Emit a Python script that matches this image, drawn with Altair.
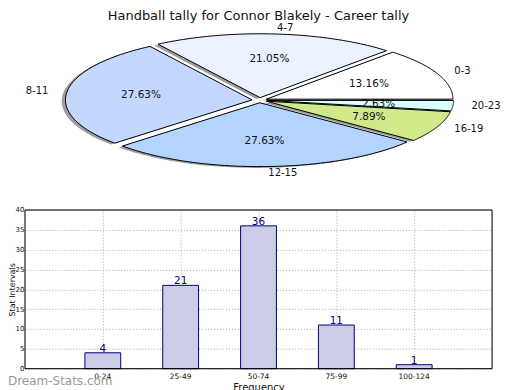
import altair as alt
import pandas as pd

# ---- data ----
pie_labels = ["0-3", "4-7", "8-11", "12-15", "16-19", "20-23"]
pie_counts = [10, 16, 21, 21, 6, 2]
pie_colors = ["#FFFFFF", "#EAF1FF", "#C4D8FF", "#B3D4FF", "#D0EA8A", "#D8FFFF"]

bar_cats = ["0-24", "25-49", "50-74", "75-99", "100-124"]
bar_vals = [4, 21, 36, 11, 1]

title_text = "Handball tally for Connor Blakely - Career tally"
FONT = "DejaVu Sans"

pie_df = pd.DataFrame({"label": pie_labels, "count": pie_counts, "order": list(range(len(pie_labels)))})
bar_df = pd.DataFrame({"cat": bar_cats, "val": bar_vals})

EXPLODE = 0.04
NSEG = 60

# pie scales (unit circle, squashed into an ellipse by the scales)
xs = alt.Scale(domain=[-1.2567, 1.2460], nice=False, zero=False)
ys = alt.Scale(domain=[-4.2031, -1.71875], nice=False, zero=False)

pie_base = (
    alt.Chart(pie_df)
    .transform_window(cum="sum(count)", sort=[alt.SortField("order")], frame=[None, 0])
    .transform_joinaggregate(total="sum(count)")
    .transform_calculate(
        a0="2*PI*(datum.cum-datum.count)/datum.total",
        a1="2*PI*datum.cum/datum.total",
    )
    .transform_calculate(mid="(datum.a0+datum.a1)/2")
    .transform_calculate(ex=f"{EXPLODE}*cos(datum.mid)", ey=f"{EXPLODE}*sin(datum.mid)")
)

poly = (
    pie_base.transform_calculate(k=f"sequence(0, {NSEG + 3})")
    .transform_flatten(["k"])
    .transform_calculate(
        t=f"clamp((datum.k-1)/{NSEG}, 0, 1)",
        isc=f"datum.k==0 || datum.k=={NSEG + 2}",
    )
    .transform_calculate(ang="datum.a0 + (datum.a1-datum.a0)*datum.t")
    .transform_calculate(
        px="datum.ex + (datum.isc ? 0 : cos(datum.ang))",
        py="datum.ey + (datum.isc ? 0 : sin(datum.ang))",
    )
)

shadow = poly.transform_calculate(sx="datum.px-0.02", sy="datum.py-0.02").mark_line(
    fill="#4d4d4d", fillOpacity=0.55, strokeWidth=0
).encode(
    x=alt.X("sx:Q", scale=xs, axis=None),
    y=alt.Y("sy:Q", scale=ys, axis=None),
    order="k:Q",
    detail="label:N",
)

wedges = poly.mark_line(stroke="black", strokeWidth=1, strokeJoin="miter").encode(
    x=alt.X("px:Q", scale=xs, axis=None),
    y=alt.Y("py:Q", scale=ys, axis=None),
    order="k:Q",
    fill=alt.Fill("label:N", scale=alt.Scale(domain=pie_labels, range=pie_colors), legend=None),
    detail="label:N",
)

pct = (
    pie_base.transform_calculate(
        tx="datum.ex + 0.6*cos(datum.mid)",
        ty="datum.ey + 0.6*sin(datum.mid)",
        txt="format(100*datum.count/datum.total, '.2f') + '%'",
    )
    .mark_text(font=FONT, fontSize=10.5, color="#111111", baseline="middle", align="center")
    .encode(x=alt.X("tx:Q", scale=xs, axis=None), y=alt.Y("ty:Q", scale=ys, axis=None), text="txt:N")
)

lab_base = pie_base.transform_calculate(
    tx="datum.ex + 1.1*cos(datum.mid)",
    ty="datum.ey + 1.1*sin(datum.mid)",
)
lab_right = (
    lab_base.transform_filter("datum.tx > 0")
    .mark_text(font=FONT, fontSize=10, color="#111111", baseline="middle", align="left")
    .encode(x=alt.X("tx:Q", scale=xs, axis=None), y=alt.Y("ty:Q", scale=ys, axis=None), text="label:N")
)
lab_left = (
    lab_base.transform_filter("datum.tx <= 0")
    .mark_text(font=FONT, fontSize=10, color="#111111", baseline="middle", align="right")
    .encode(x=alt.X("tx:Q", scale=xs, axis=None), y=alt.Y("ty:Q", scale=ys, axis=None), text="label:N")
)

pie = alt.layer(shadow, wedges, pct, lab_right, lab_left)

# ---- bar chart ----
GRID = "#a8a8a8"
xb = alt.X(
    "cat:N",
    sort=bar_cats,
    scale=alt.Scale(domain=bar_cats, paddingInner=0.54, paddingOuter=0.77),
    axis=alt.Axis(
        orient="bottom", title="Frequency", labelAngle=0, grid=True, bandPosition=0.5,
        gridColor=GRID, gridDash=[1, 2], gridWidth=1, domain=False, ticks=False,
        labelFont=FONT, labelFontSize=7.5, labelColor="#111111", labelPadding=4,
        titleFont=FONT, titleFontSize=10, titleFontWeight="normal", titleColor="#111111", titlePadding=2,
    ),
)
yb = alt.Y(
    "val:Q",
    scale=alt.Scale(domain=[0, 40], nice=False),
    axis=alt.Axis(
        orient="left", title="Stat Intervals", values=list(range(0, 41, 5)), grid=True,
        gridColor=GRID, gridDash=[1, 2], gridWidth=1, domain=False, ticks=False,
        labelFont=FONT, labelFontSize=7, labelColor="#111111", labelPadding=1,
        titleFont=FONT, titleFontSize=8, titleFontWeight="normal", titleColor="#111111", titlePadding=-1.5,
    ),
)

bars = alt.Chart(bar_df).mark_bar(fill="#CCCCE6", stroke="#000080", strokeWidth=1).encode(x=xb, y=yb)
vals = alt.Chart(bar_df).mark_text(
    font=FONT, fontSize=10.5, color="#000080", baseline="bottom", dy=1
).encode(x=xb, y=yb, text="val:Q")
frame = alt.Chart(pd.DataFrame({"f": [0]})).mark_rect(
    fill="transparent", stroke="black", strokeWidth=1
).encode(x=alt.value(0), x2=alt.value(468), y=alt.value(0), y2=alt.value(159))
mark_wm = alt.Chart(pd.DataFrame({"t": ["Dream-Stats.com"]})).mark_text(
    font=FONT, fontSize=12, color="#999999", align="left", baseline="middle"
).encode(x=alt.value(-17), y=alt.value(171), text="t:N")

barpart = alt.layer(bars, vals, frame, mark_wm)

chart = (
    alt.layer(pie, barpart)
    .resolve_scale(x="independent", y="independent", fill="independent")
    .properties(
        width=468,
        height=159,
        autosize=alt.AutoSizeParams(type="none"),
        padding={"left": 17, "top": 202, "right": 20, "bottom": 22},
        title=alt.TitleParams(
            text=title_text, frame="group", offset=0, font=FONT, fontSize=13,
            fontWeight="normal", color="#111111", anchor="middle",
        ),
    )
    .configure_view(stroke="black", strokeWidth=1)
    .configure(background="white")
)

chart.save("out.html", embed_options={"renderer": "svg", "actions": False})
